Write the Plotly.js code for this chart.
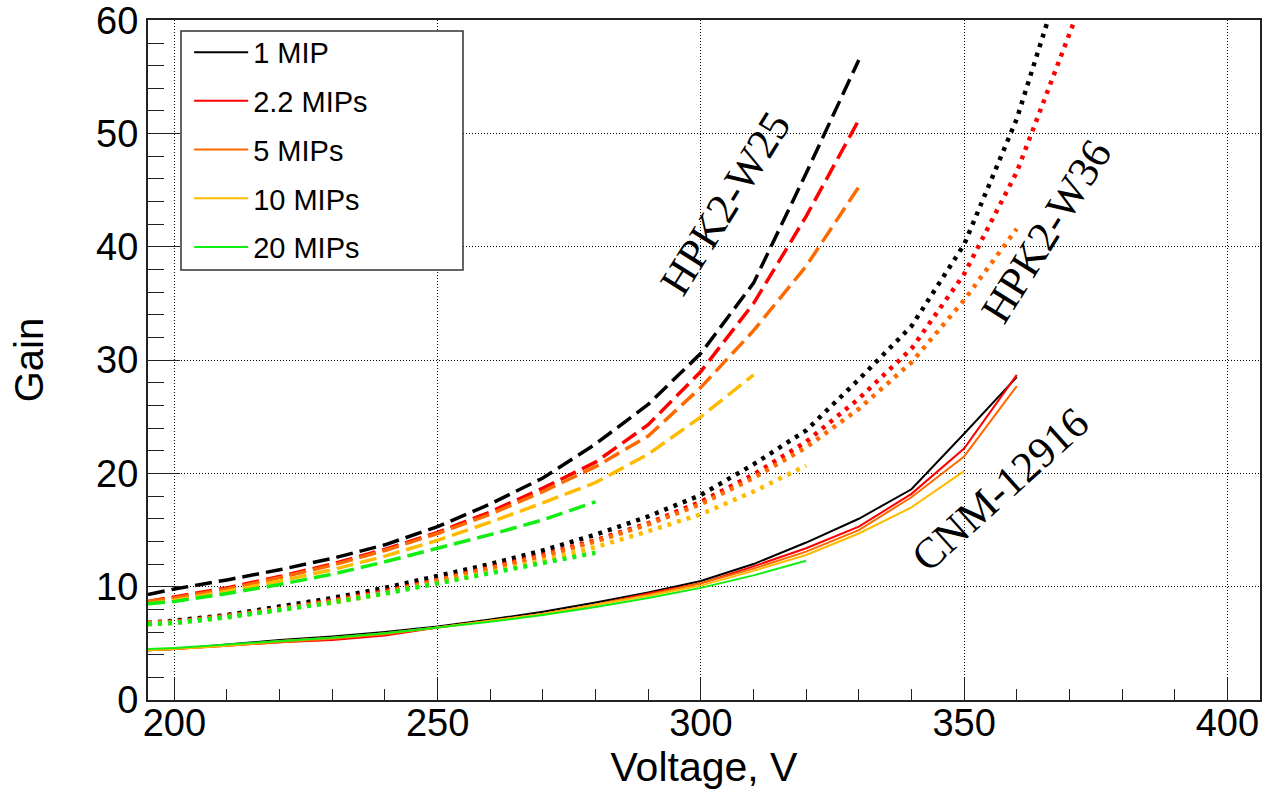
<!DOCTYPE html>
<html>
<head>
<meta charset="utf-8">
<script src="https://cdn.plot.ly/plotly-3.0.1.min.js"></script>
<style>html,body{margin:0;padding:0;background:#fff}#chart{width:1262px;height:792px}</style>
</head>
<body>
<div id="chart"></div>
<script>
// ---- data ----
const legendNames = ["1 MIP", "2.2 MIPs", "5 MIPs", "10 MIPs", "20 MIPs"];
const colors = ["#000000", "#ff0000", "#ff6a00", "#ffbb00", "#11ee11"];

// HPK2-W25 (dashed)
const vW25_1  = [195,200,210,220,230,240,250,260,270,280,290,300,310,320,330];
const gW25_1  = [9.3,9.8,10.6,11.5,12.5,13.7,15.3,17.3,19.6,22.6,26.1,30.6,36.8,46.5,56.5];
const vW25_2  = [195,200,210,220,230,240,250,260,270,280,290,300,310,320,330];
const gW25_2  = [8.7,9.1,9.9,10.9,12.0,13.3,14.8,16.6,18.7,21.0,24.3,29.0,35.0,42.7,51.2];
const vW25_5  = [195,200,210,220,230,240,250,260,270,280,290,300,310,320,330];
const gW25_5  = [8.7,9.0,9.8,10.8,11.9,13.2,14.7,16.4,18.4,20.6,23.3,27.6,32.6,38.3,45.3];
const vW25_10 = [195,200,210,220,230,240,250,260,270,280,290,300,310];
const gW25_10 = [8.5,8.8,9.6,10.5,11.5,12.7,14.1,15.7,17.4,19.2,21.7,25.0,28.7];
const vW25_20 = [195,200,210,220,230,240,250,260,270,280];
const gW25_20 = [8.5,8.7,9.4,10.2,11.1,12.2,13.4,14.6,15.9,17.5];

// HPK2-W36 (dotted)
const vW36_1  = [195,200,210,220,230,240,250,260,270,280,290,300,310,320,330,340,350,360,370];
const gW36_1  = [6.8,7.0,7.5,8.2,9.0,9.9,10.9,12.0,13.2,14.6,16.2,18.1,20.8,23.8,28.3,33.0,40.2,51.3,66.0];
const vW36_2  = [195,200,210,220,230,240,250,260,270,280,290,300,310,320,330,340,350,360,370,380];
const gW36_2  = [6.8,6.9,7.4,8.0,8.8,9.6,10.6,11.7,12.8,14.1,15.6,17.5,19.9,22.8,26.6,31.0,37.6,46.6,58.5,71.0];
const vW36_5  = [195,200,210,220,230,240,250,260,270,280,290,300,310,320,330,340,350,360];
const gW36_5  = [6.8,6.9,7.4,8.0,8.7,9.5,10.6,11.6,12.7,14.0,15.5,17.3,19.6,22.3,25.7,29.8,35.3,41.6];
const vW36_10 = [195,200,210,220,230,240,250,260,270,280,290,300,310,320];
const gW36_10 = [6.7,6.8,7.3,7.9,8.6,9.4,10.3,11.3,12.3,13.5,14.9,16.4,18.4,20.7];
const vW36_20 = [195,200,210,220,230,240,250,260,270,280];
const gW36_20 = [6.7,6.8,7.3,7.9,8.6,9.4,10.3,11.2,12.1,13.0];

// CNM-12916 (solid)
const vCNM_1  = [195,200,210,220,230,240,250,260,270,280,290,300,310,320,330,340,350,360];
const gCNM_1  = [4.4,4.5,4.9,5.3,5.6,6.0,6.5,7.1,7.8,8.6,9.5,10.5,12.0,13.9,16.0,18.6,23.5,28.5];
const vCNM_2  = [195,200,210,220,230,240,250,260,270,280,290,300,310,320,330,340,350,360];
const gCNM_2  = [4.4,4.5,4.8,5.1,5.3,5.7,6.4,7.0,7.6,8.4,9.4,10.3,11.8,13.4,15.3,18.2,22.2,28.7];
const vCNM_5  = [195,200,210,220,230,240,250,260,270,280,290,300,310,320,330,340,350,360];
const gCNM_5  = [4.4,4.5,4.8,5.1,5.4,5.8,6.4,7.0,7.6,8.4,9.3,10.3,11.6,13.1,15.0,17.9,21.5,27.7];
const vCNM_10 = [195,200,210,220,230,240,250,260,270,280,290,300,310,320,330,340,350];
const gCNM_10 = [4.4,4.5,4.8,5.2,5.5,5.9,6.4,7.0,7.6,8.4,9.2,10.1,11.4,12.8,14.7,17.0,20.2];
const vCNM_20 = [195,200,210,220,230,240,250,260,270,280,290,300,310,320];
const gCNM_20 = [4.5,4.6,4.9,5.2,5.5,5.9,6.4,6.9,7.5,8.2,9.0,9.9,11.0,12.3];

const deviceLabels = ["HPK2-W25", "HPK2-W36", "CNM-12916"];
const xTickVals = [200, 250, 300, 350, 400];
const yTickVals = [0, 10, 20, 30, 40, 50, 60];

// ---- traces ----
const groups = [
  {v:[vW25_1,vW25_2,vW25_5,vW25_10,vW25_20], g:[gW25_1,gW25_2,gW25_5,gW25_10,gW25_20], dash:"17px,7px", width:3.5, legend:false},
  {v:[vW36_1,vW36_2,vW36_5,vW36_10,vW36_20], g:[gW36_1,gW36_2,gW36_5,gW36_10,gW36_20], dash:"4px,6px", width:4.5, legend:false},
  {v:[vCNM_1,vCNM_2,vCNM_5,vCNM_10,vCNM_20], g:[gCNM_1,gCNM_2,gCNM_5,gCNM_10,gCNM_20], dash:"solid", width:2, legend:true}
];
const traces = [];
groups.forEach((grp, gi) => {
  for (let i = 0; i < 5; i++) {
    traces.push({
      type: "scatter", mode: "lines",
      x: grp.v[i], y: grp.g[i],
      name: legendNames[i],
      legendgroup: "g" + i,
      showlegend: grp.legend,
      line: {color: colors[i], width: grp.width, dash: grp.dash},
      hoverinfo: "skip"
    });
  }
});

const annFont = {family: "Liberation Serif, Times New Roman, serif", size: 43, color: "#000"};
const layout = {
  width: 1262, height: 792,
  margin: {l: 148, r: 2, t: 20, b: 92},
  paper_bgcolor: "#fff", plot_bgcolor: "#fff",
  font: {family: "Liberation Sans, Arial, sans-serif", color: "#000"},
  showlegend: true,
  legend: {
    x: 0.037, y: 0.99, xanchor: "left", yanchor: "top",
    bgcolor: "rgba(0,0,0,0)", borderwidth: 0,
    itemwidth: 54,
    font: {size: 29, family: "Liberation Sans, Arial, sans-serif"},
    tracegroupgap: 8
  },
  xaxis: {
    range: [195, 406.2], showline: true, mirror: true, linecolor: "#222", linewidth: 2,
    ticks: "inside", ticklen: 23, tickcolor: "#222", tickwidth: 1,
    tickmode: "array", tickvals: xTickVals,
    minor: {ticks: "inside", ticklen: 11, dtick: 10, tick0: 200, tickcolor: "#222", showgrid: false},
    showgrid: true, gridcolor: "#000", gridwidth: 1, griddash: "1px,2px",
    zeroline: false,
    tickfont: {size: 38},
    ticklabelstandoff: -12,
    ticklabeloverflow: "allow",
    title: {text: "Voltage, V", font: {size: 41}, standoff: 6}
  },
  yaxis: {
    range: [0, 60.03], showline: true, mirror: true, linecolor: "#222", linewidth: 2,
    ticks: "inside", ticklen: 32, tickcolor: "#222", tickwidth: 1,
    tickmode: "array", tickvals: yTickVals,
    minor: {ticks: "inside", ticklen: 16, dtick: 2, tick0: 0, tickcolor: "#222", showgrid: false},
    showgrid: true, gridcolor: "#000", gridwidth: 1, griddash: "1px,2px",
    zeroline: false,
    tickfont: {size: 38},
    ticklabeloverflow: "allow",
    title: {text: "Gain", font: {size: 40}, standoff: 40}
  },
  shapes: [
    {type: "rect", xref: "paper", yref: "paper",
     x0: (181 - 148) / 1112, x1: (463 - 148) / 1112,
     y0: (700 - 270) / 680, y1: (700 - 31) / 680,
     line: {color: "#333", width: 1.5}, fillcolor: "#fff", layer: "above"}
  ],
  annotations: [
    {x: 304.6, y: 43.8, xref: "x", yref: "y", text: deviceLabels[0], showarrow: false, textangle: -58, font: annFont},
    {x: 365.5, y: 41.4, xref: "x", yref: "y", text: deviceLabels[1], showarrow: false, textangle: -58, font: annFont},
    {x: 356.8, y: 18.6, xref: "x", yref: "y", text: deviceLabels[2], showarrow: false, textangle: -42, font: annFont}
  ]
};

Plotly.newPlot("chart", traces, layout, {displayModeBar: false, staticPlot: true});
</script>
</body>
</html>
